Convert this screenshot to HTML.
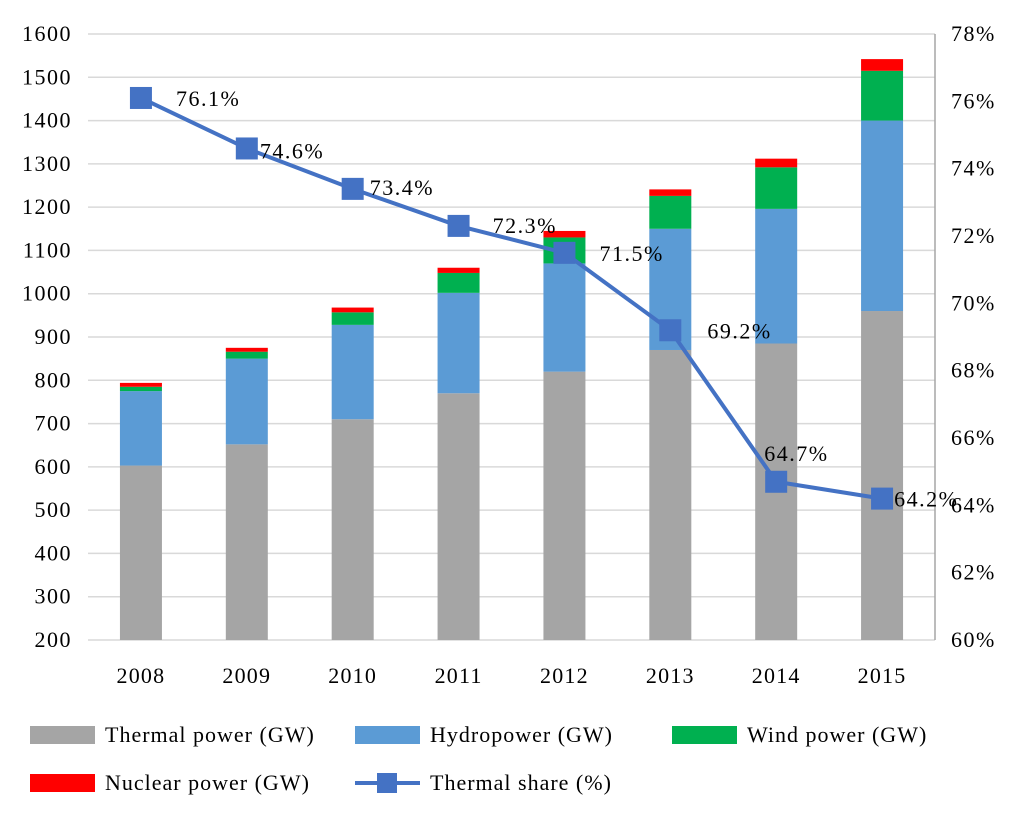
<!DOCTYPE html>
<html><head><meta charset="utf-8"><style>
body{margin:0;background:#fff;}
svg text{font-family:"Liberation Serif",serif;fill:#000;}
</style></head><body>
<svg id="chart" width="1024" height="821" xmlns="http://www.w3.org/2000/svg"></svg>
<script>
const years=["2008","2009","2010","2011","2012","2013","2014","2015"];
const thermal=[603,652,710,770,820,870,885,960];
const hydro=[172,198,218,232,250,280,311,440];
const wind=[10,16,29,46,60,76,96,115];
const nuclear=[9,9,11,12,15,15,20,27];
const share=[76.1,74.6,73.4,72.3,71.5,69.2,64.7,64.2];
const leftTicks=[200,300,400,500,600,700,800,900,1000,1100,1200,1300,1400,1500,1600];
const rightTicks=[60,62,64,66,68,70,72,74,76,78];
const NS="http://www.w3.org/2000/svg";
const svg=document.getElementById('chart');
const x0=88,x1=935,yB=640,yT=34;
const yL=v=>yB-(v-200)/1400*(yB-yT);
const yR=v=>yB-(v-60)/18*(yB-yT);
const step=(x1-x0)/years.length;
const xC=i=>x0+step*(i+0.5);
function mk(t,a,txt){const e=document.createElementNS(NS,t);for(const k in a)e.setAttribute(k,a[k]);if(txt!==undefined)e.textContent=txt;svg.appendChild(e);return e;}
leftTicks.forEach(v=>{
 const g=mk('line',{x1:x0,x2:x1,y1:yL(v),y2:yL(v),stroke:'#d9d9d9','stroke-width':1.5});
 
 
 const t=mk('text',{x:72,y:yL(v)+7,'text-anchor':'end','font-size':22,'letter-spacing':1.5},v);
 
 
});
rightTicks.forEach(v=>{
 const t=mk('text',{x:951,y:yR(v)+7,'font-size':22,'letter-spacing':1.5},v+'%');
 
 
});
const ax=mk('line',{x1:x1,x2:x1,y1:yT,y2:yB,stroke:'#a6a6a6','stroke-width':1.5});


const bw=42;
const series=[[thermal,'#a5a5a5','thermal'],[hydro,'#5b9bd5','hydro'],[wind,'#00b050','wind'],[nuclear,'#ff0000','nuclear']];
years.forEach((y,i)=>{
 let base=0;
 series.forEach(s=>{
  const top=base+s[0][i];
  const b=Math.max(base,200);
  const r=mk('rect',{x:xC(i)-bw/2,y:yL(top),width:bw,height:yL(b)-yL(top),fill:s[1]});
  
  
  base=top;
 });
 const t=mk('text',{x:xC(i),y:683,'text-anchor':'middle','font-size':22,'letter-spacing':1.2},y);
 
 
});
const pl=mk('polyline',{points:share.map((v,i)=>xC(i)+','+yR(v)).join(' '),fill:'none',stroke:'#4472c4','stroke-width':4});


const ldx=[35,13,17,34,35,37,-12,12];
const ldy=[8,10,6,7,8,8,-21,8];
share.forEach((v,i)=>{
 const r=mk('rect',{x:xC(i)-11,y:yR(v)-11,width:22,height:22,fill:'#4472c4'});
 
 
 const t=mk('text',{x:xC(i)+ldx[i],y:yR(v)+ldy[i],'font-size':22,'letter-spacing':1.5},v.toFixed(1)+'%');
 
 
});
const leg=[[30,735,'#a5a5a5','Thermal power (GW)'],[355,735,'#5b9bd5','Hydropower (GW)'],[672,735,'#00b050','Wind power (GW)'],[30,783,'#ff0000','Nuclear power (GW)']];
leg.forEach(l=>{
 const r=mk('rect',{x:l[0],y:l[1]-9,width:65,height:18,fill:l[2]});
 
 
 const t=mk('text',{x:l[0]+75,y:l[1]+7,'font-size':22,'letter-spacing':1},l[3]);
 
 
});
const ll=mk('line',{x1:355,x2:420,y1:783,y2:783,stroke:'#4472c4','stroke-width':4});


const lm=mk('rect',{x:377,y:773,width:20,height:20,fill:'#4472c4'});


const lt=mk('text',{x:430,y:790,'font-size':22,'letter-spacing':1},'Thermal share (%)');


</script>
</body></html>
